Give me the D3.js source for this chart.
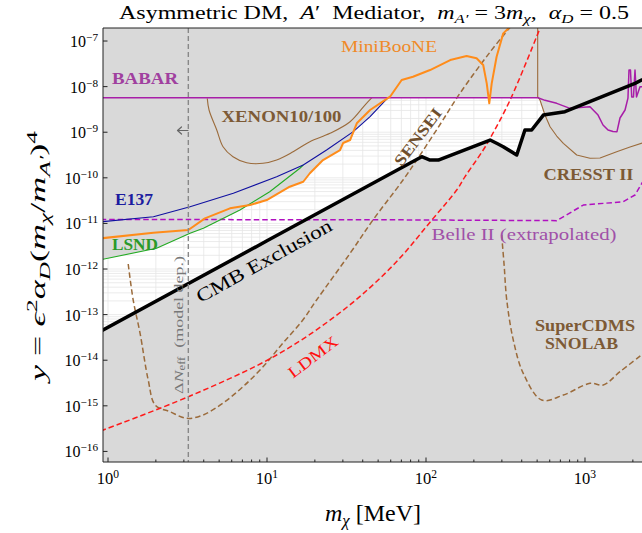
<!DOCTYPE html>
<html>
<head>
<meta charset="utf-8">
<script src="https://cdn.jsdelivr.net/npm/d3@7/dist/d3.min.js"></script>
<style>
  html, body { margin: 0; padding: 0; background: #fff; }
  svg { display: block; }
  text { font-family: "Liberation Serif", "Times New Roman", serif; white-space: pre; }
</style>
</head>
<body>
<svg id="chart" width="642" height="533"></svg>
<script>
// Dark matter mass m_chi [MeV] vs. y = eps^2 alpha_D (m_chi / m_A')^4

// Existing limits (region above each curve is excluded)
const babar = [[0.9,5.71e-9],[506,5.71e-9],[560,5.0e-9],[664,4.3e-9],[805,3.34e-9],[1075,3.62e-9],[1208,2.38e-9],[1298,1.44e-9],[1396,1.12e-9],[1500,1.04e-9],[1589,1.03e-9],[1660,2.05e-9],[1786,3.07e-9],[1863,5.6e-9],[1891,2.31e-8],[1932,2.31e-8],[1967,5.9e-9],[2018,5.9e-9],[2063,2.31e-8],[2108,5.9e-9],[2218,9.96e-9],[2300,1.0e-8]];
const e137 = [[0.9,1.08e-11],[1.93,1.40e-11],[3.28,2.32e-11],[6.14,4.57e-11],[11.5,1.06e-10],[16.9,1.91e-10],[23.7,4.07e-10],[34.9,1.03e-9],[44.5,2.19e-9],[57.7,5.71e-9]];
const lsnd = [[0.9,1.6e-12],[2.02,2.85e-12],[3.28,6.07e-12],[3.98,7.82e-12],[6.76,1.97e-11],[10.4,4.95e-11],[16.1,1.62e-10],[16.9,1.91e-10]];
const miniboone = [[0.9,4.7e-12],[1.93,6.25e-12],[3.20,7.16e-12],[4.07,1.29e-11],[5.85,2.14e-11],[7.82,2.53e-11],[9.96,3.26e-11],[13.9,6.38e-11],[16.9,8.2e-11],[18.6,1.26e-10],[22.5,2.45e-10],[28.8,4.07e-10],[30.1,5.79e-10],[33.3,6.74e-10],[36.7,1.57e-9],[44.5,3.07e-9],[59.4,6.01e-9],[70.3,1.40e-8],[82.8,1.65e-8],[106,2.31e-8],[142,3.83e-8],[180,4.69e-8],[208,4.18e-8],[229,2.98e-8],[241,1.18e-8],[250,4.31e-9],[259,1.18e-8],[278,4.53e-8],[306,1.47e-7],[338,2.06e-7]];
const xenon = [[4.21,5.53e-9],[4.32,3.07e-9],[4.83,1.12e-9],[5.29,4.81e-10],[6.11,2.90e-10],[7.45,2.14e-10],[9.44,2.08e-10],[11.5,2.45e-10],[14.6,3.73e-10],[18.6,6.19e-10],[24.9,9.46e-10],[33.3,1.70e-9],[41.3,3.94e-9],[45.7,5.71e-9]];
const cresst = [[504,2.0e-7],[504,6.01e-9],[521,5.08e-9],[560,2.38e-9],[603,1.32e-9],[664,8.26e-10],[731,5.71e-10],[887,3.16e-10],[1075,2.68e-10],[1243,2.72e-10],[1582,3.73e-10],[1919,4.73e-10],[2300,5.8e-10]];

// CMB bound (region below is excluded)
const cmb = [[0.9,4.31e-14],[10,4.15e-12],[94,2.90e-10],[106,2.45e-10],[119.5,2.45e-10],[253,6.74e-10],[280,5.65e-10],[306,4.81e-10],[372,3.16e-10],[419,1.12e-9],[462,1.12e-9],[547,2.38e-9],[748,2.82e-9],[2063,1.18e-8],[2300,1.42e-8]];

// Projected sensitivities
const sensei = [[1.34,1.29e-12],[1.44,2.09e-13],[1.59,3.94e-14],[1.79,3.68e-15],[1.98,1.04e-15],[2.45,7.43e-16],[3.13,5.32e-16],[3.96,6.28e-16],[5.29,1.15e-15],[7.06,2.62e-15],[9.44,7.19e-15],[12.6,2.38e-14],[16.8,7.62e-14],[20.5,2.09e-13],[33.3,2.21e-12],[46.4,1.19e-11],[71.7,8.95e-11],[87.4,2.45e-10],[122,1.44e-9],[164,7.24e-9],[253,5.74e-8],[338,2.0e-7]];
const supercdms = [[299,5.57e-12],[310,1.22e-12],[322,2.09e-13],[354,2.77e-14],[409,5.16e-15],[534,1.34e-15],[731,1.72e-15],[1075,3.11e-15],[1303,2.86e-15],[1660,5.60e-15],[2300,1.35e-14]];
const ldmx = [[0.9,2.81e-16],[3.28,1.64e-15],[11.5,1.30e-14],[30.2,1.26e-13],[62.3,1.22e-12],[111,1.29e-11],[156,5.39e-11],[176,1.06e-10],[229,4.07e-10],[253,7.35e-10],[338,5.08e-9],[521,1.90e-7]];
const belle2 = [[0.9,1.22e-11],[60,1.2e-11],[664,1.15e-11],[976,2.53e-11],[1741,2.99e-11],[2063,4.2e-11],[2300,8.0e-11]];

// N_eff lower mass bound [MeV]
const neffMass = 3.2;

// Axis ticks
const xMajorTicks = [1, 10, 100, 1000];
const xTickExponents = ["0", "1", "2", "3"];
const yMajorTicks = [1e-16, 1e-15, 1e-14, 1e-13, 1e-12, 1e-11, 1e-10, 1e-9, 1e-8, 1e-7];
const yTickExponents = ["\u221216", "\u221215", "\u221214", "\u221213", "\u221212", "\u221211", "\u221210", "\u22129", "\u22128", "\u22127"];

const svg = d3.select("#chart");
const P = { left: 103, right: 642, top: 28, bottom: 462 };
const x = d3.scaleLog().domain([0.93, 2283]).range([P.left, P.right]);
const y = d3.scaleLog().domain([5.86e-17, 1.93e-7]).range([P.bottom, P.top]);

const defs = svg.append("defs");
defs.append("clipPath").attr("id", "plotClip")
  .append("rect").attr("x", P.left).attr("y", P.top)
  .attr("width", P.right - P.left).attr("height", P.bottom - P.top);

// excluded background
svg.append("rect").attr("x", P.left).attr("y", P.top)
  .attr("width", P.right - P.left).attr("height", P.bottom - P.top)
  .attr("fill", "#d9d9d9");

// log-log interpolation of a curve; Infinity outside its mass range
function logAt(curve, m) {
  const lm = Math.log10(m);
  for (let i = 0; i < curve.length - 1; i++) {
    const la = Math.log10(curve[i][0]), lb = Math.log10(curve[i + 1][0]);
    if (lb > la && lm >= la && lm <= lb) {
      const t = (lm - la) / (lb - la);
      return Math.log10(curve[i][1]) + t * (Math.log10(curve[i + 1][1]) - Math.log10(curve[i][1]));
    }
  }
  return Infinity;
}

// allowed window between the CMB bound and the existing limits
const limits = [lsnd, e137, miniboone, babar, xenon, cresst];
const lo = Math.log10(x.domain()[0]), hi = Math.log10(x.domain()[1]);
const upper = [], lower = [];
let started = false;
for (let lm = lo; lm <= hi + 1e-9; lm += 0.002) {
  const m = Math.pow(10, lm);
  const topL = Math.min(-6, ...limits.map(c => logAt(c, m)));
  const botL = logAt(cmb, m);
  if (topL > botL) {
    upper.push([m, Math.pow(10, topL)]);
    lower.push([m, Math.pow(10, botL)]);
    started = true;
  } else if (started) break;
}
const windowPts = upper.concat(lower.slice().reverse());
const areaLine = d3.line().x(d => x(d[0])).y(d => y(d[1]));
const windowPath = areaLine(windowPts) + "Z";

defs.append("clipPath").attr("id", "windowClip").append("path").attr("d", windowPath);

const plotG = svg.append("g").attr("clip-path", "url(#plotClip)");
plotG.append("path").attr("d", windowPath).attr("fill", "#ffffff");

// light grid inside the allowed window
const gridG = plotG.append("g").attr("clip-path", "url(#windowClip)")
  .attr("stroke", "#e6e6e6").attr("stroke-width", 0.8);
const xGrid = [];
for (let k = -1; k <= 3; k++) for (let j = 1; j <= 9; j++) {
  const v = j * Math.pow(10, k);
  if (v >= x.domain()[0] && v <= x.domain()[1]) xGrid.push(v);
}
const yGrid = [];
for (let k = -17; k <= -7; k++) for (let j = 1; j <= 9; j++) {
  const v = j * Math.pow(10, k);
  if (v >= y.domain()[0] && v <= y.domain()[1]) yGrid.push(v);
}
gridG.selectAll(".vg").data(xGrid).join("line")
  .attr("x1", d => x(d)).attr("x2", d => x(d)).attr("y1", P.top).attr("y2", P.bottom);
gridG.selectAll(".hg").data(yGrid).join("line")
  .attr("y1", d => y(d)).attr("y2", d => y(d)).attr("x1", P.left).attr("x2", P.right);

function drawCurve(data, color, width, dash, curveType) {
  const gen = d3.line().x(d => x(d[0])).y(d => y(d[1])).curve(curveType || d3.curveLinear);
  plotG.append("path").attr("d", gen(data)).attr("fill", "none")
    .attr("stroke", color).attr("stroke-width", width)
    .attr("stroke-dasharray", dash || null)
    .attr("stroke-linejoin", "round");
}

const brown = "#9b6b3b";
drawCurve(xenon, brown, 1.1, null, d3.curveCatmullRom);
drawCurve(cresst, brown, 1.1, null, d3.curveLinear);
drawCurve(sensei, brown, 1.5, "5.5,3", d3.curveCatmullRom);
drawCurve(supercdms, brown, 1.5, "5.5,3", d3.curveCatmullRom);
drawCurve(ldmx, "#ff1a1a", 1.5, "5.5,3", d3.curveCatmullRom);
drawCurve(belle2, "#b010c0", 1.5, "5.5,3", d3.curveLinear);
drawCurve(lsnd, "#22aa22", 1.1, null);
drawCurve(e137, "#1010a0", 1.1, null);
drawCurve(babar, "#a81ea8", 1.5, null);
drawCurve(miniboone, "#ff8c1a", 2.0, null);
drawCurve(cmb, "#000000", 3.5, null);

// N_eff vertical line
plotG.append("line").attr("x1", x(neffMass)).attr("x2", x(neffMass))
  .attr("y1", P.top).attr("y2", P.bottom)
  .attr("stroke", "#888888").attr("stroke-width", 1.4).attr("stroke-dasharray", "5,3");

// text helper supporting italic / sub / superscript segments
function mathText(parent, segs, fs, attrs) {
  const t = parent.append("text").attr("font-size", fs).attr("xml:space", "preserve");
  Object.entries(attrs || {}).forEach(([k, v]) => t.attr(k, v));
  let shift = 0;
  segs.forEach(s => {
    const [str, opt] = s;
    const o = opt || "";
    const want = o.includes("sup") ? -0.38 * fs : o.includes("sub") ? 0.22 * fs : 0;
    const sp = t.append("tspan").text(str)
      .attr("font-size", (o.includes("sup") || o.includes("sub")) ? fs * 0.7 : fs);
    if (want !== shift) sp.attr("dy", want - shift);
    if (o.includes("i")) sp.attr("font-style", "italic");
    shift = want;
  });
  return t;
}

function label(str, cx, cy, fs, color, opts) {
  const o = opts || {};
  const g = svg.append("g").attr("transform", `translate(${cx},${cy}) rotate(${o.rot || 0})`);
  const t = g.append("text").text(str).attr("x", 0).attr("y", fs * 0.33)
    .attr("text-anchor", "middle").attr("font-size", fs).attr("fill", color)
    .attr("font-weight", o.bold ? "bold" : "normal");
  if (o.width) t.attr("textLength", o.width).attr("lengthAdjust", "spacingAndGlyphs");
  return t;
}

label("BABAR", 145, 78.5, 16, "#a0409f", { bold: true, width: 66 });
label("XENON10/100", 281.5, 116.5, 16, "#7d5a35", { bold: true, width: 120 });
label("MiniBooNE", 389, 46.5, 16, "#f08a28", { width: 96 });
label("E137", 134, 200, 16, "#1c1ca0", { bold: true, width: 38 });
label("LSND", 135, 245, 16, "#2a9a2a", { bold: true, width: 46 });
label("CRESST II", 588.5, 175, 16, "#7d5a35", { bold: true, width: 90 });
label("Belle II (extrapolated)", 524, 235, 16, "#a050a8", { width: 185 });
label("SuperCDMS", 585, 325.5, 16, "#7d5a35", { bold: true, width: 100 });
label("SNOLAB", 581.5, 344, 16, "#7d5a35", { bold: true, width: 73 });
label("CMB Exclusion", 264, 261, 19, "#000000", { rot: -29, width: 152 });
label("SENSEI", 418, 137, 16, "#6e4e2c", { bold: true, rot: -53, width: 68 });
label("LDMX", 313, 357, 16, "#ff1010", { rot: -37, width: 58 });

// N_eff annotation and arrow pointing to the excluded side
const neffG = svg.append("g").attr("transform", "translate(182.5,325) rotate(-90)");
mathText(neffG, [["\u0394"], ["N", "i"], ["eff", "sub"], ["  (model dep.)"]], 13.5,
  { "text-anchor": "middle", fill: "#777777", x: 0, y: 0, textLength: 138, lengthAdjust: "spacingAndGlyphs" });
svg.append("path").attr("d", "M188,130.5 H177.5 M181.5,127 L177.5,130.5 L181.5,134")
  .attr("fill", "none").attr("stroke", "#666666").attr("stroke-width", 1.2)
  .attr("stroke-linecap", "round").attr("stroke-linejoin", "round");

// title
mathText(svg, [["Asymmetric DM,  "], ["A", "i"], ["\u2032  Mediator,  "], ["m", "i"], ["A\u2032", "isub"],
  [" = 3"], ["m", "i"], ["\u03c7", "isub"], [",  "], ["\u03b1", "i"], ["D", "isub"], [" = 0.5"]], 19,
  { x: 119, y: 18.5, fill: "#000", textLength: 510, lengthAdjust: "spacingAndGlyphs" });

// axes
const axG = svg.append("g").attr("stroke", "#222").attr("stroke-width", 1);
axG.append("line").attr("x1", P.left).attr("x2", P.left).attr("y1", P.top).attr("y2", P.bottom);
axG.append("line").attr("x1", P.left).attr("x2", P.right).attr("y1", P.bottom).attr("y2", P.bottom);
axG.append("line").attr("x1", P.left).attr("x2", P.right).attr("y1", P.top).attr("y2", P.top);

const xMinor = xGrid.filter(v => !xMajorTicks.includes(v));
axG.selectAll(".xmin").data(xMinor).join("line")
  .attr("x1", d => x(d)).attr("x2", d => x(d)).attr("y1", P.bottom).attr("y2", P.bottom - 2.5);
axG.selectAll(".xmaj").data(xMajorTicks).join("line")
  .attr("x1", d => x(d)).attr("x2", d => x(d)).attr("y1", P.bottom).attr("y2", P.bottom - 4.5);
axG.selectAll(".ymaj").data(yMajorTicks).join("line")
  .attr("y1", d => y(d)).attr("y2", d => y(d)).attr("x1", P.left).attr("x2", P.left + 4.5);

xMajorTicks.forEach((v, i) => {
  mathText(svg, [["10"], [xTickExponents[i], "sup"]], 16.5,
    { x: x(v), y: P.bottom + 22, "text-anchor": "middle", fill: "#000" });
});
yMajorTicks.forEach((v, i) => {
  mathText(svg, [["10"], [yTickExponents[i], "sup"]], 16,
    { x: P.left - 5, y: y(v) + 6, "text-anchor": "end", fill: "#000" });
});

// axis titles
mathText(svg, [["m", "i"], ["\u03c7", "isub"], [" [MeV]"]], 24,
  { x: 373, y: 521, "text-anchor": "middle", fill: "#000" });
const yl = svg.append("g").attr("transform", "translate(45,256) rotate(-90)");
mathText(yl, [["y", "i"], [" = "], ["\u03f5", "i"], ["2", "sup"], ["\u03b1", "i"], ["D", "isub"], ["("],
  ["m", "i"], ["\u03c7", "isub"], ["/"], ["m", "i"], ["A\u2032", "isub"], [")"], ["4", "sup"]], 21.5,
  { x: 0, y: 0, "text-anchor": "middle", fill: "#000", textLength: 250, lengthAdjust: "spacingAndGlyphs" });
</script>
</body>
</html>
